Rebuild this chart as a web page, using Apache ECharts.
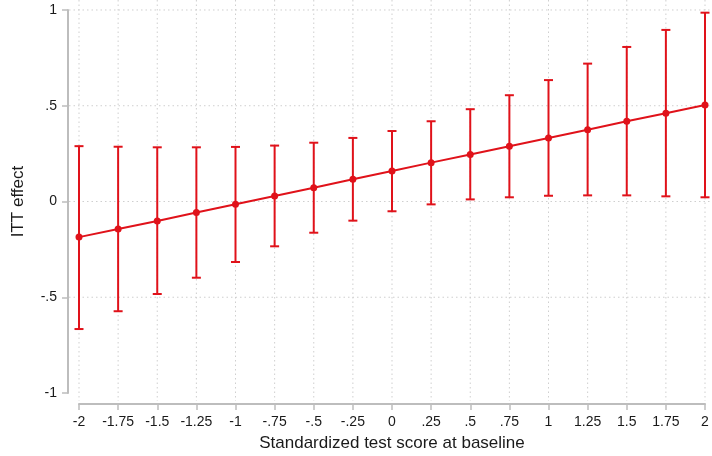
<!DOCTYPE html>
<html>
<head>
<meta charset="utf-8">
<script src="https://cdn.jsdelivr.net/npm/echarts@6/dist/echarts.min.js"></script>
<style>
  html, body { margin: 0; padding: 0; background: #ffffff; }
  #chart { width: 712px; height: 456px; }
</style>
</head>
<body>
<div id="chart"></div>
<script>
// Baseline score grid and estimated ITT effects with 95% confidence bounds
const scores = [-2, -1.75, -1.5, -1.25, -1, -0.75, -0.5, -0.25, 0, 0.25, 0.5, 0.75, 1, 1.25, 1.5, 1.75, 2];
const effect = [-0.186, -0.144, -0.102, -0.057, -0.014, 0.029, 0.072, 0.116, 0.159, 0.203, 0.245, 0.289, 0.332, 0.375, 0.419, 0.461, 0.504];
const upper  = [0.289, 0.286, 0.283, 0.283, 0.285, 0.292, 0.307, 0.332, 0.368, 0.419, 0.482, 0.555, 0.634, 0.720, 0.807, 0.896, 0.986];
const lower  = [-0.666, -0.573, -0.483, -0.398, -0.316, -0.234, -0.163, -0.100, -0.051, -0.015, 0.011, 0.022, 0.030, 0.032, 0.032, 0.027, 0.022];

// Axis ticks and their printed labels
const xTicks = [-2, -1.75, -1.5, -1.25, -1, -0.75, -0.5, -0.25, 0, 0.25, 0.5, 0.75, 1, 1.25, 1.5, 1.75, 2];
const xTickLabels = ['-2', '-1.75', '-1.5', '-1.25', '-1', '-.75', '-.5', '-.25', '0', '.25', '.5', '.75', '1', '1.25', '1.5', '1.75', '2'];
const yTicks = [-1, -0.5, 0, 0.5, 1];
const yTickLabels = ['-1', '-.5', '0', '.5', '1'];
const yGridTicks = [-0.5, 0, 0.5, 1];

const RED = '#e0121a';
const AXIS_GRAY = '#bdbdbd';
const GRID_GRAY = '#cfcfcf';
const TEXT = '#1a1a1a';
const FONT = 'Liberation Sans, Arial, Helvetica, sans-serif';

function tickLabel(ticks, labels) {
  return function (v) {
    for (let i = 0; i < ticks.length; i++) {
      if (Math.abs(ticks[i] - v) < 1e-9) return labels[i];
    }
    return '';
  };
}

const chart = echarts.init(document.getElementById('chart'), null, { renderer: 'canvas' });

// dotted grid line spanning the whole plot region (grid 1)
function gridLineItem(vertical) {
  return function (params, api) {
    const cs = params.coordSys;
    const p = api.coord(vertical ? [api.value(0), 0] : [0, api.value(0)]);
    const shape = vertical
      ? { x1: p[0], y1: cs.y, x2: p[0], y2: cs.y + cs.height }
      : { x1: cs.x, y1: p[1], x2: cs.x + cs.width, y2: p[1] };
    return {
      type: 'line', shape: shape,
      style: { stroke: GRID_GRAY, lineWidth: 1, lineDash: [1.5, 3], fill: null }
    };
  };
}

chart.setOption({
  animation: false,
  backgroundColor: '#ffffff',
  grid: [
    // data area: x from -2 to 2, y from -1 to 1
    { left: 79, right: 7, top: 10, bottom: 63, outerBoundsMode: 'none', containLabel: false },
    // full plot region, used for the dotted grid
    { left: 69, right: 0, top: 0, bottom: 55, outerBoundsMode: 'none', containLabel: false }
  ],
  xAxis: [
    {
      type: 'value', gridIndex: 0, min: -2, max: 2, interval: 0.25,
      offset: 11,
      axisLine: { show: true, onZero: false, lineStyle: { color: AXIS_GRAY, width: 2 } },
      axisTick: { show: true, length: 6, lineStyle: { color: AXIS_GRAY, width: 1.5 } },
      splitLine: { show: false },
      axisLabel: { color: TEXT, fontSize: 14, fontFamily: FONT, margin: 11,
                   formatter: tickLabel(xTicks, xTickLabels) },
      name: 'Standardized test score at baseline',
      nameLocation: 'middle', nameGap: 31,
      nameTextStyle: { color: TEXT, fontSize: 17, fontFamily: FONT }
    },
    {
      type: 'value', gridIndex: 1, min: -2.0639, max: 2.0447,
      show: false, splitLine: { show: false }
    }
  ],
  yAxis: [
    {
      type: 'value', gridIndex: 0, min: -1, max: 1, interval: 0.5,
      offset: 11,
      axisLine: { show: true, onZero: false, lineStyle: { color: AXIS_GRAY, width: 2 } },
      axisTick: { show: true, length: 6, lineStyle: { color: AXIS_GRAY, width: 1.5 } },
      splitLine: { show: false },
      axisLabel: { color: TEXT, fontSize: 14, fontFamily: FONT, margin: 11,
                   formatter: tickLabel(yTicks, yTickLabels) },
      name: 'ITT effect',
      nameLocation: 'middle', nameGap: 41, nameRotate: 90,
      nameTextStyle: { color: TEXT, fontSize: 17, fontFamily: FONT }
    },
    {
      type: 'value', gridIndex: 1, min: -1.0418, max: 1.0522,
      show: false, splitLine: { show: false }
    }
  ],
  series: [
    {
      // vertical dotted grid lines at the x ticks
      type: 'custom', xAxisIndex: 1, yAxisIndex: 1, z: 0, silent: true,
      data: xTicks.map(v => [v]),
      renderItem: gridLineItem(true)
    },
    {
      // horizontal dotted grid lines at the y ticks
      type: 'custom', xAxisIndex: 1, yAxisIndex: 1, z: 0, silent: true,
      data: yGridTicks.map(v => [v]),
      renderItem: gridLineItem(false)
    },
    {
      // confidence intervals with caps
      type: 'custom', xAxisIndex: 0, yAxisIndex: 0, z: 3, clip: false,
      data: scores.map((x, i) => [x, lower[i], upper[i]]),
      renderItem: function (params, api) {
        const x = api.value(0);
        const lo = api.coord([x, api.value(1)]);
        const hi = api.coord([x, api.value(2)]);
        const half = 4.5;
        const style = { stroke: RED, lineWidth: 2, fill: null };
        return {
          type: 'group',
          children: [
            { type: 'line', shape: { x1: lo[0], y1: lo[1], x2: hi[0], y2: hi[1] }, style: style },
            { type: 'line', shape: { x1: lo[0] - half, y1: lo[1], x2: lo[0] + half, y2: lo[1] }, style: style },
            { type: 'line', shape: { x1: hi[0] - half, y1: hi[1], x2: hi[0] + half, y2: hi[1] }, style: style }
          ]
        };
      }
    },
    {
      // point estimates
      type: 'line', xAxisIndex: 0, yAxisIndex: 0, z: 4,
      data: scores.map((x, i) => [x, effect[i]]),
      symbol: 'circle', symbolSize: 7,
      lineStyle: { color: RED, width: 2 },
      itemStyle: { color: RED },
      clip: false
    }
  ]
});
</script>
</body>
</html>
